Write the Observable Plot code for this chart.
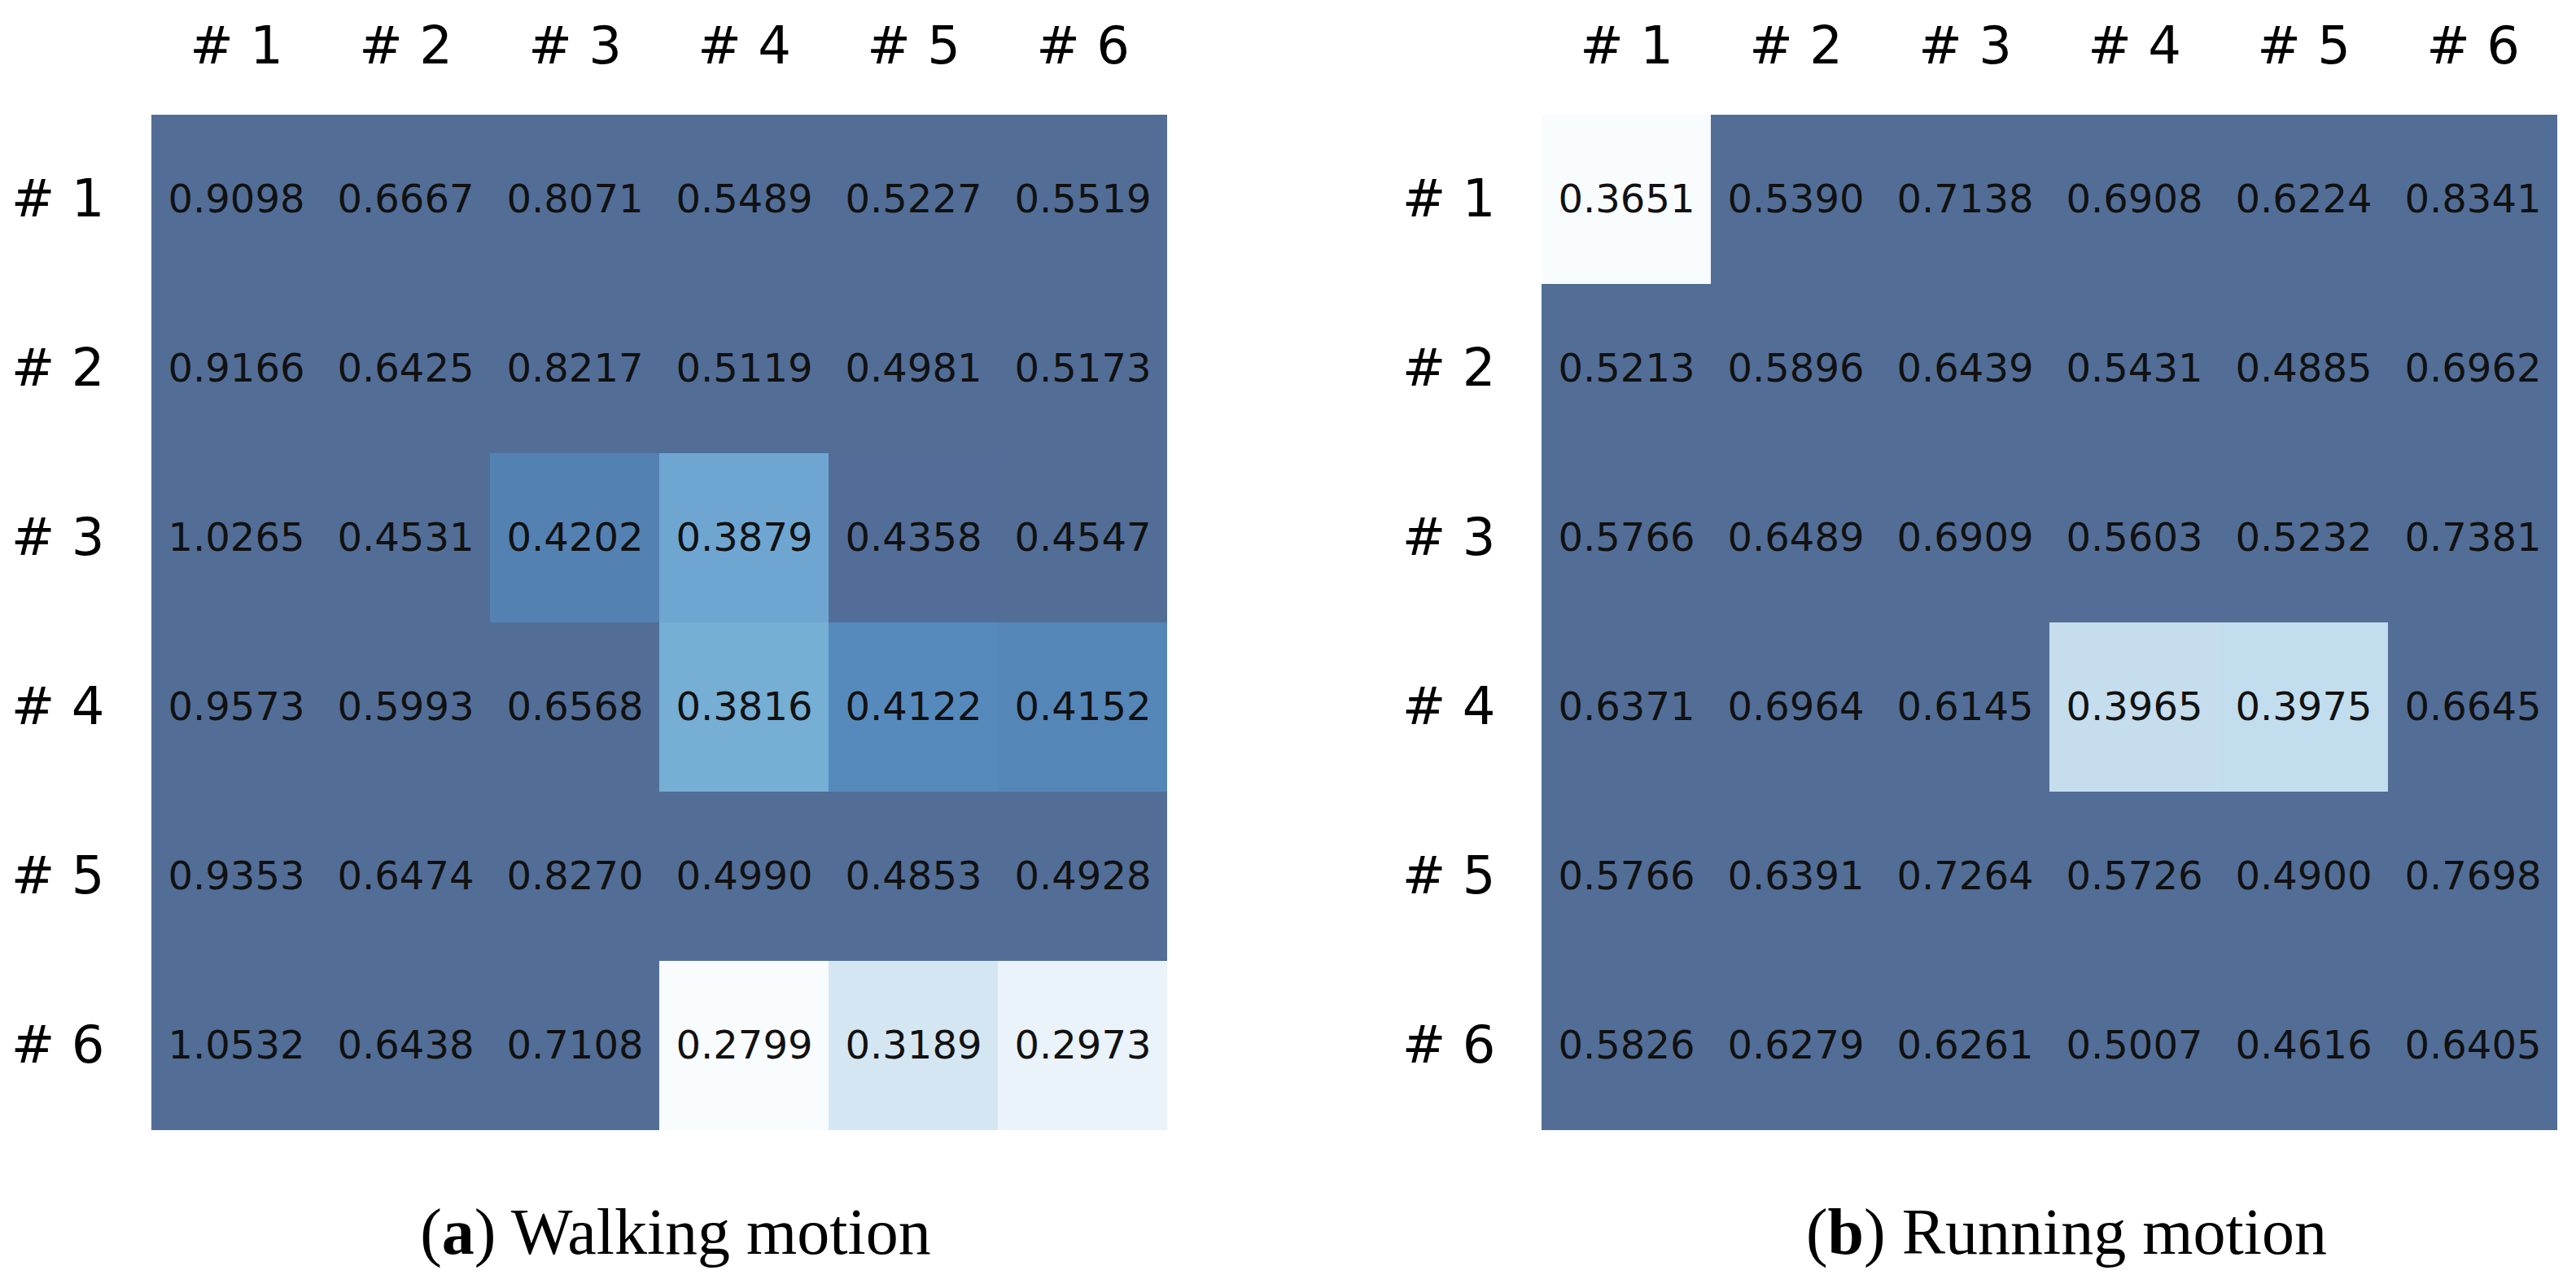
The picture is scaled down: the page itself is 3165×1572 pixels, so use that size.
<!DOCTYPE html>
<html>
<head>
<meta charset="utf-8">
<script src="https://cdn.jsdelivr.net/npm/d3@7"></script>
<script src="https://cdn.jsdelivr.net/npm/@observablehq/plot@0.6"></script>
<style>
  html, body { margin: 0; padding: 0; background: #fff; }
  #wrap { position: relative; width: 3165px; height: 1572px; overflow: hidden; background: #fff; }
  .panel { position: absolute; top: 0; }
  .cap { position: absolute; top: 1474px; width: 1000px; text-align: center;
         font-family: "Liberation Serif", "DejaVu Serif", serif; font-size: 80px; line-height: 80px; color: #000; }
</style>
</head>
<body>
<div id="wrap">
  <div class="panel" id="left" style="left:0px"></div>
  <div class="panel" id="right" style="left:1582px"></div>
  <div class="cap" style="left:330px">(<b>a</b>) Walking motion</div>
  <div class="cap" style="left:2039px">(<b>b</b>) Running motion</div>
</div>
<script>
const rowLabels = ["# 1", "# 2", "# 3", "# 4", "# 5", "# 6"];
const colLabels = ["# 1", "# 2", "# 3", "# 4", "# 5", "# 6"];

const walking = [
  [0.9098, 0.6667, 0.8071, 0.5489, 0.5227, 0.5519],
  [0.9166, 0.6425, 0.8217, 0.5119, 0.4981, 0.5173],
  [1.0265, 0.4531, 0.4202, 0.3879, 0.4358, 0.4547],
  [0.9573, 0.5993, 0.6568, 0.3816, 0.4122, 0.4152],
  [0.9353, 0.6474, 0.8270, 0.4990, 0.4853, 0.4928],
  [1.0532, 0.6438, 0.7108, 0.2799, 0.3189, 0.2973]
];
const running = [
  [0.3651, 0.5390, 0.7138, 0.6908, 0.6224, 0.8341],
  [0.5213, 0.5896, 0.6439, 0.5431, 0.4885, 0.6962],
  [0.5766, 0.6489, 0.6909, 0.5603, 0.5232, 0.7381],
  [0.6371, 0.6964, 0.6145, 0.3965, 0.3975, 0.6645],
  [0.5766, 0.6391, 0.7264, 0.5726, 0.4900, 0.7698],
  [0.5826, 0.6279, 0.6261, 0.5007, 0.4616, 0.6405]
];
const walkingColorDomain = [0.2799, 0.436];
const runningColorDomain = [0.3651, 0.46];

const fmt = d3.format(".4f");

function panel(matrix, domain, marginLeft, marginRight) {
  const data = matrix.flatMap((row, i) => row.map((v, j) => ({row: rowLabels[i], col: colLabels[j], v})));
  return Plot.plot({
    width: 1582,
    height: 1400,
    marginTop: 139,
    marginBottom: 9,
    marginLeft,
    marginRight,
    style: {fontFamily: "DejaVu Sans", fontSize: "64px", background: "white", color: "black", overflow: "visible"},
    x: {domain: colLabels, axis: "top", tickSize: 0, tickPadding: 62, label: null, padding: 0},
    y: {domain: rowLabels, tickSize: 0, tickPadding: 56, label: null, padding: 0},
    color: {type: "linear", scheme: "blues", domain, clamp: true},
    marks: [
      Plot.cell(data, {x: "col", y: "row", fill: "v", fillOpacity: 0.7, inset: 0}),
      Plot.text(data, {x: "col", y: "row", text: d => fmt(d.v), fontSize: 48, fill: "#111"})
    ]
  });
}

document.getElementById("left").append(panel(walking, walkingColorDomain, 184, 147));
document.getElementById("right").append(panel(running, runningColorDomain, 311, 21));
</script>
</body>
</html>
